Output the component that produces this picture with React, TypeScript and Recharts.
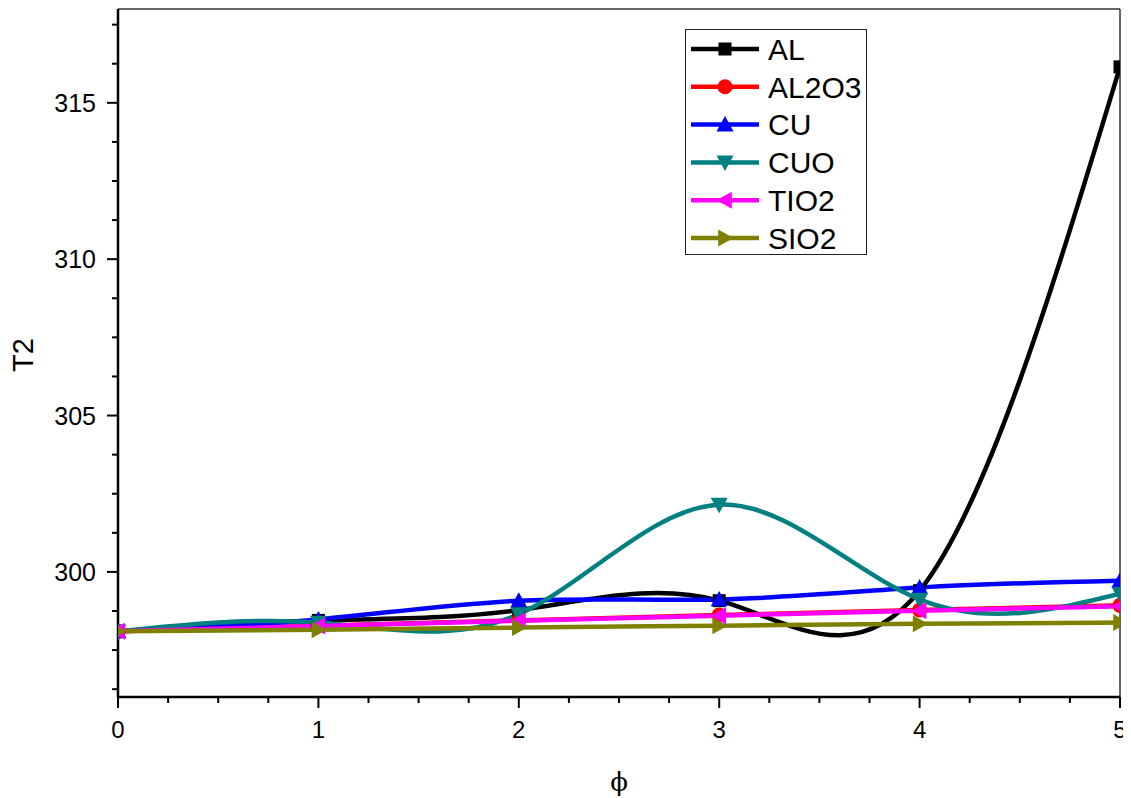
import React from 'react';
import { LineChart, Line, XAxis, YAxis, ReferenceLine } from 'recharts';

const phi = [0, 1, 2, 3, 4, 5];
const AL = [298.1, 298.45, 298.78, 299.08, 299.4, 316.15];
const AL2O3 = [298.1, 298.28, 298.45, 298.62, 298.78, 298.93];
const CU = [298.1, 298.48, 299.08, 299.12, 299.5, 299.72];
const CUO = [298.1, 298.38, 298.65, 302.15, 299.12, 299.3];
const TIO2 = [298.1, 298.27, 298.44, 298.6, 298.76, 298.9];
const SIO2 = [298.1, 298.15, 298.22, 298.28, 298.34, 298.38];

const xTicks = [0, 0.25, 0.5, 0.75, 1, 1.25, 1.5, 1.75, 2, 2.25, 2.5, 2.75, 3, 3.25, 3.5, 3.75, 4, 4.25, 4.5, 4.75, 5];
const xMajor = [0, 1, 2, 3, 4, 5];
const yTicks = [296.25, 297.5, 298.75, 300, 301.25, 302.5, 303.75, 305, 306.25, 307.5, 308.75, 310, 311.25, 312.5, 313.75, 315, 316.25, 317.5];
const yMajor = [300, 305, 310, 315];

type SeriesDef = { key: string; name: string; color: string; shape: string; values: number[] };
const series: SeriesDef[] = [
  { key: 'AL', name: 'AL', color: '#000000', shape: 'square', values: AL },
  { key: 'AL2O3', name: 'AL2O3', color: '#ff0000', shape: 'circle', values: AL2O3 },
  { key: 'CU', name: 'CU', color: '#0000ff', shape: 'up', values: CU },
  { key: 'CUO', name: 'CUO', color: '#008080', shape: 'down', values: CUO },
  { key: 'TIO2', name: 'TIO2', color: '#ff00ff', shape: 'left', values: TIO2 },
  { key: 'SIO2', name: 'SIO2', color: '#808000', shape: 'right', values: SIO2 },
];

const data = phi.map((p, i) => {
  const row: Record<string, number> = { phi: p };
  series.forEach((s) => { row[s.key] = s.values[i]; });
  return row;
});

const FONT = 'Liberation Sans, Arial, sans-serif';

function markerShape(shape: string, cx: number, cy: number, color: string, key?: any) {
  const s = 8.5;
  switch (shape) {
    case 'square':
      return <rect key={key} x={cx - 6.5} y={cy - 6.5} width={13} height={13} fill={color} />;
    case 'circle':
      return <circle key={key} cx={cx} cy={cy} r={7.5} fill={color} />;
    case 'up':
      return <polygon key={key} points={`${cx},${cy - s} ${cx - s},${cy + s * 0.8} ${cx + s},${cy + s * 0.8}`} fill={color} />;
    case 'down':
      return <polygon key={key} points={`${cx},${cy + s} ${cx - s},${cy - s * 0.8} ${cx + s},${cy - s * 0.8}`} fill={color} />;
    case 'left':
      return <polygon key={key} points={`${cx - s},${cy} ${cx + s * 0.8},${cy - s} ${cx + s * 0.8},${cy + s}`} fill={color} />;
    case 'right':
      return <polygon key={key} points={`${cx + s},${cy} ${cx - s * 0.8},${cy - s} ${cx - s * 0.8},${cy + s}`} fill={color} />;
    default:
      return <g key={key} />;
  }
}

const YTick = (props: any) => {
  const { x, y, payload } = props;
  const major = yMajor.includes(payload.value);
  return (
    <g>
      <line x1={x} y1={y} x2={x - (major ? 11 : 6)} y2={y} stroke="#000" strokeWidth={2} />
      {major && (
        <text x={x - 22} y={y} dy="0.36em" textAnchor="end" fontFamily={FONT} fontSize={25} fill="#000">
          {payload.value}
        </text>
      )}
    </g>
  );
};

const XTick = (props: any) => {
  const { x, y, payload } = props;
  const major = xMajor.includes(payload.value);
  return (
    <g>
      <line x1={x} y1={y} x2={x} y2={y + (major ? 11 : 6)} stroke="#000" strokeWidth={2} />
      {major && (
        <text x={x} y={y + 41} textAnchor="middle" fontFamily={FONT} fontSize={24} fill="#000">
          {payload.value}
        </text>
      )}
    </g>
  );
};

const LegendBox = () => (
  <div style={{ position: 'absolute', left: 677, top: 21, width: 182, height: 226, border: '1px solid #222', background: '#fff', boxSizing: 'border-box' }}>
    <svg width={180} height={224}>
      {series.map((s, i) => {
        const cy = 19 + i * 37.8;
        return (
          <g key={s.key}>
            <line x1={5} y1={cy} x2={73} y2={cy} stroke={s.color} strokeWidth={4.5} />
            {markerShape(s.shape, 39, cy, s.color)}
            <text x={82} y={cy} dy="0.36em" fontFamily={FONT} fontSize={30} fill="#000">{s.name}</text>
          </g>
        );
      })}
    </svg>
  </div>
);

export default function App() {
  return (
    <div style={{ position: 'relative', width: 1123, height: 790 }}>
      <LineChart width={1123} height={790} data={data} margin={{ top: 1, right: 11, bottom: 0, left: 0 }}>
        <XAxis
          dataKey="phi"
          type="number"
          domain={[0, 5]}
          ticks={xTicks}
          interval={0}
          allowDataOverflow
          height={101}
          tickSize={0}
          tickMargin={0}
          tickLine={false}
          tick={<XTick />}
          axisLine={{ stroke: '#000', strokeWidth: 2.5 }}
          label={{
            content: () => (
              <text x={611} y={783} textAnchor="middle" fontFamily="DejaVu Serif, serif" fontSize={26} fill="#000">ϕ</text>
            ),
          }}
        />
        <YAxis
          type="number"
          domain={[296, 318]}
          ticks={yTicks}
          interval={0}
          allowDataOverflow
          width={110}
          tickSize={0}
          tickMargin={0}
          tickLine={false}
          tick={<YTick />}
          axisLine={{ stroke: '#000', strokeWidth: 2.5 }}
          label={{
            content: () => (
              <text x={25} y={347} textAnchor="middle" transform="rotate(-90 25 347)" fontFamily={FONT} fontSize={29} fill="#000">T2</text>
            ),
          }}
        />
        <ReferenceLine y={318} stroke="#333" strokeWidth={1.5} ifOverflow="visible" />
        <ReferenceLine x={5} stroke="#333" strokeWidth={1.5} ifOverflow="visible" />
        {series.map((s) => (
          <Line
            key={s.key}
            type="natural"
            dataKey={s.key}
            name={s.name}
            stroke={s.color}
            strokeWidth={4.5}
            isAnimationActive={false}
            dot={(p: any) => markerShape(s.shape, p.cx, p.cy, s.color, `${s.key}-${p.index}`)}
            activeDot={false}
          />
        ))}
      </LineChart>
      <LegendBox />
    </div>
  );
}
